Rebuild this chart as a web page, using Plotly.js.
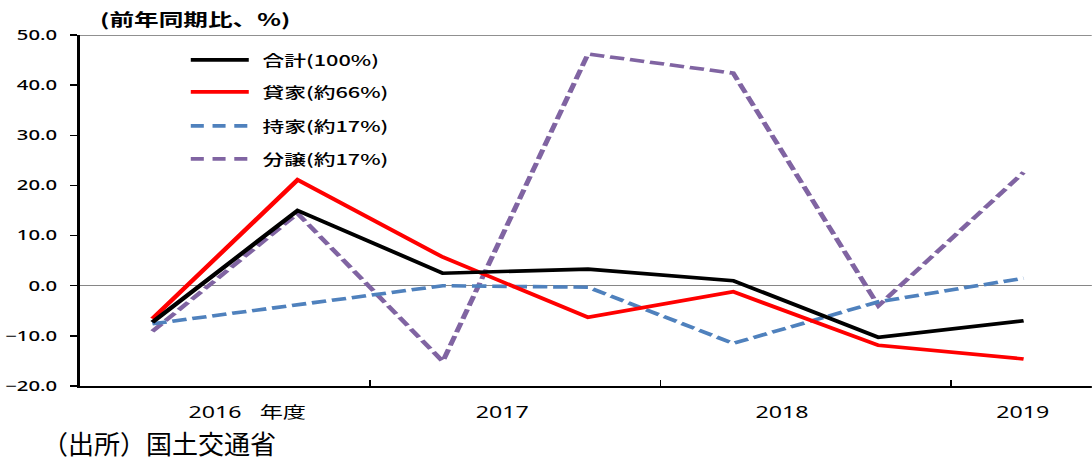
<!DOCTYPE html>
<html>
<head>
<meta charset="utf-8">
<script src="https://cdn.plot.ly/plotly-3.0.1.min.js"></script>
<style>
  html, body { margin: 0; padding: 0; background: #fff; overflow: hidden; }
  #wrap { position: relative; width: 1092px; height: 459px; }
  /* the chart is drawn narrow and widened, like the source graphic */
  #chart { position: absolute; left: 0; top: 0; transform-origin: 0 0; }
  #source {
    position: absolute; left: 42px; top: 428px;
    font-family: "Noto Sans CJK JP", sans-serif; font-size: 26px; line-height: 30px;
    color: #000; white-space: nowrap;
  }
</style>
</head>
<body>
<div id="wrap">
  <div id="chart"></div>
  <div id="source">（出所）国土交通省</div>
</div>
<script>
// Half-year periods, FY2016 first half to FY2019 first half
const periods = ['2016上', '2016下', '2017上', '2017下', '2018上', '2018下', '2019上'];

// Year-on-year change of housing starts by type (%)
const totalAll   = [-7.3, 15.0, 2.5, 3.3, 1.0, -10.3, -7.0];
const rental     = [-6.6, 21.1, 5.7, -6.3, -1.2, -11.9, -14.6];
const ownerBuilt = [-7.6, -3.8, 0.0, -0.3, -11.5, -3.2, 1.5];
const forSale    = [-9.1, 14.4, -15.1, 46.2, 42.4, -4.0, 22.6];

const seriesNames = ['合計(100%)', '貸家(約66%)', '持家(約17%)', '分譲(約17%)'];
const yearLabels  = ['2016\u00a0\u00a0\u00a0年度', '2017', '2018', '2019'];
const yTitle      = '(前年同期比、%)';

// ---- layout constants ----
const OUT_W = 1092, OUT_H = 459;
const STRETCH = 1.45;
const W = OUT_W / STRETCH;
const yearLabelX = [0.65, 2.41, 4.34, 6.0];

const xs = periods.map((_, i) => i);
const styles = [
  { color: '#000000', dash: 'solid' },
  { color: '#FF0000', dash: 'solid' },
  { color: '#4F81BD', dash: '10px,4px' },
  { color: '#8064A2', dash: '10px,4px' }
];
const values = [totalAll, rental, ownerBuilt, forSale];

const traces = values.map((v, k) => ({
  type: 'scatter', mode: 'lines', x: xs, y: v, name: seriesNames[k],
  line: { color: styles[k].color, width: 3.6, dash: styles[k].dash },
  hoverinfo: 'skip'
}));
// dashed lines drawn below the solid ones
const order = [3, 2, 1, 0];
const data = order.map(k => traces[k]);

const tickFont = { family: 'Noto Sans, Noto Sans CJK JP, sans-serif', size: 14, color: '#000', weight: 500 };
const labelFont = { family: 'Noto Sans, Noto Sans CJK JP, sans-serif', size: 16, color: '#000' };
const legendFont = { family: 'Noto Sans CJK JP, sans-serif', size: 15, color: '#000', weight: 500 };

const annotations = [];
const shapes = [];

// top border of the plot area
shapes.push({ type: 'line', xref: 'paper', yref: 'y', x0: 0, x1: 1, y0: 50, y1: 50,
  line: { color: '#222', width: 1.2 } });

// year labels under the axis
yearLabels.forEach((t, i) => annotations.push({
  xref: 'x', yref: 'paper', x: yearLabelX[i], y: -0.074, text: t, showarrow: false,
  xanchor: 'center', yanchor: 'middle', font: labelFont
}));

// axis unit title
annotations.push({
  xref: 'paper', yref: 'paper', x: 0.0168, y: 1.046, text: yTitle, showarrow: false,
  xanchor: 'left', yanchor: 'middle', font: { family: 'Noto Sans CJK JP, sans-serif', size: 17, color: '#000', weight: 'bold' }
});

// legend
const legY = [0.929, 0.838, 0.741, 0.647];
const legDash = ['solid', 'solid', '9px,6px', '9px,6px'];
seriesNames.forEach((n, k) => {
  shapes.push({ type: 'line', xref: 'paper', yref: 'paper', x0: 0.1097, x1: 0.167, y0: legY[k], y1: legY[k],
    line: { color: styles[k].color, width: 3.6, dash: legDash[k] } });
  annotations.push({ xref: 'paper', yref: 'paper', x: 0.177, y: legY[k], text: n, showarrow: false,
    xanchor: 'left', yanchor: 'middle', font: legendFont });
});

const layout = {
  width: W, height: OUT_H,
  margin: { l: 80 / STRETCH, r: 0, t: 35, b: 73, pad: 0 },
  paper_bgcolor: '#fff', plot_bgcolor: '#fff',
  showlegend: false,
  xaxis: {
    range: [-0.5, 6.47], showgrid: false, zeroline: false,
    showline: true, linecolor: '#000', linewidth: 2,
    tickmode: 'array', tickvals: [1.5, 3.5, 5.5], ticks: 'inside', ticklen: 6, tickwidth: 1,
    tickcolor: '#000', showticklabels: false, fixedrange: true
  },
  yaxis: {
    range: [-20, 50], dtick: 10, tickformat: '.1f', showgrid: false,
    zeroline: true, zerolinecolor: '#868686', zerolinewidth: 1.5,
    showline: true, linecolor: '#000', linewidth: 1.8,
    ticks: 'outside', ticklen: 5, tickwidth: 1.5, tickcolor: '#000',
    ticklabelstandoff: 6, tickfont: tickFont, fixedrange: true
  },
  shapes: shapes,
  annotations: annotations
};

const el = document.getElementById('chart');
el.style.transform = 'scaleX(' + STRETCH + ')';
Plotly.newPlot(el, data, layout, { displayModeBar: false, staticPlot: true });
</script>
</body>
</html>
